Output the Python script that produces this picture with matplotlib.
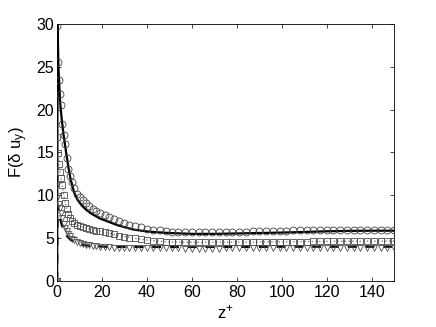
import matplotlib
matplotlib.use("Agg")
import matplotlib.pyplot as plt

plt.rcParams['font.family'] = ['Liberation Sans', 'DejaVu Sans']
plt.rcParams['mathtext.fontset'] = 'custom'
plt.rcParams['mathtext.rm'] = 'Liberation Sans'
plt.rcParams['mathtext.it'] = 'Liberation Sans'

# wall-normal positions of the sampled points
z = [0, 0.15, 0.5, 0.9, 1.3, 1.8, 2.3, 2.9, 3.5, 4.2, 5.0, 5.8, 6.7, 7.7, 8.8,
     10.0, 11.3, 12.7, 14.2, 15.8, 17.5, 19.3, 21.2, 23.2, 25.3, 27.5, 29.8,
     32.2, 34.7, 37.3, 40.0, 42.8, 45.7, 48.3,
     51, 54, 57, 60, 63, 66, 69, 72, 75, 78, 81, 84, 87, 90, 93, 96, 99, 102,
     105, 108, 111, 114, 117, 120, 123, 126, 129, 132, 135, 138, 141, 144, 147, 150]

circ = [0, 29.8, 25.6, 23.5, 21.8, 20.5, 18.3, 17.0, 16.0, 14.3, 13.1, 12.2, 11.5,
        10.8, 10.2, 9.8, 9.4, 9.05, 8.75, 8.45, 8.2, 7.95, 7.7, 7.45, 7.2, 6.98, 6.78,
        6.58, 6.4, 6.25, 6.1, 5.98, 5.9, 5.82,
        5.76, 5.72, 5.7, 5.68, 5.67, 5.67, 5.67, 5.68, 5.7, 5.72, 5.74, 5.76,
        5.78, 5.8, 5.82, 5.84, 5.86, 5.88, 5.9, 5.91, 5.92, 5.93, 5.94, 5.95,
        5.95, 5.96, 5.96, 5.96, 5.95, 5.95, 5.94, 5.94, 5.93, 5.93]

squ = [0, 16.8, 14.9, 13.6, 12.7, 12.0, 11.2, 10.0, 9.1, 8.4, 7.8, 7.35, 7.0,
       6.75, 6.55, 6.4, 6.28, 6.18, 6.08, 5.98, 5.88, 5.78, 5.66, 5.55, 5.43,
       5.3, 5.18, 5.07, 4.96, 4.86, 4.77, 4.69, 4.63, 4.58,
       4.55, 4.54, 4.53, 4.52, 4.52, 4.52, 4.52, 4.52, 4.53, 4.53, 4.54, 4.54,
       4.55, 4.55, 4.56, 4.57, 4.57, 4.58, 4.59, 4.6, 4.6, 4.61, 4.62, 4.62,
       4.63, 4.63, 4.64, 4.64, 4.65, 4.65, 4.65, 4.66, 4.66, 4.66]

tri = [0, 11.2, 9.9, 9.0, 8.5, 7.9, 7.3, 6.7, 6.2, 5.8, 5.45, 5.2, 4.95, 4.75,
       4.6, 4.45, 4.35, 4.25, 4.18, 4.1, 4.05, 4.0, 3.96, 3.93, 3.9, 3.88, 3.86,
       3.85, 3.84, 3.83, 3.82, 3.82, 3.81, 3.81,
       3.8, 3.8, 3.79, 3.79, 3.79, 3.79, 3.79, 3.79, 3.8, 3.8, 3.8, 3.8, 3.8,
       3.81, 3.81, 3.81, 3.81, 3.82, 3.82, 3.82, 3.82, 3.82, 3.83, 3.83, 3.83,
       3.83, 3.83, 3.83, 3.83, 3.84, 3.84, 3.84, 3.84, 3.84]

# model curves
z_solid = [0, 0.2, 0.6, 1.3, 2, 2.8, 4, 5, 6, 7.5, 9, 11, 13, 15, 19, 23, 27, 34,
           41, 50, 60, 70, 80, 90, 100, 110, 120, 130, 140, 150]
solid = [0, 29.8, 25, 21, 19, 17.2, 15, 13.3, 11.9, 10.4, 9.5, 8.8, 8.3, 7.9,
         7.3, 6.9, 6.5, 6.0, 5.75, 5.6, 5.5, 5.5, 5.55, 5.6, 5.65, 5.72, 5.8,
         5.85, 5.87, 5.87]

z_dot = [0, 0.2, 1, 2, 3, 4.5, 6, 8, 10, 14, 20, 27, 34, 40, 50, 60, 80, 100, 120, 150]
dot = [0, 16.5, 13.2, 11.6, 9.9, 8.1, 7.3, 6.7, 6.4, 6.1, 5.75, 5.35, 5.0, 4.77,
       4.55, 4.52, 4.53, 4.57, 4.62, 4.66]

z_dash = [0, 0.2, 1, 2, 3, 4.5, 6, 8, 10, 13, 17, 22, 30, 40, 60, 80, 100, 120, 150]
dash = [0, 8.8, 7.6, 6.6, 5.9, 5.2, 4.8, 4.5, 4.3, 4.15, 4.05, 4.0, 3.98, 3.97,
        3.97, 3.98, 4.0, 4.0, 4.0]

fig = plt.figure(figsize=(4.36, 3.27), dpi=100)
ax = fig.add_axes([0.131, 0.1407, 0.773, 0.786])

ax.plot(z_solid, solid, color='k', lw=1.6, zorder=2)
ax.plot(z_dot, dot, color='0.5', lw=1.0, ls=':', zorder=2)
ax.plot(z_dash, dash, color='k', lw=1.6, ls=(0, (4, 4)), zorder=2)

mk = dict(ls='none', mfc='none', mew=0.6, zorder=3)
ax.plot(z, circ, marker='o', ms=5, mec='0.25', **mk)
ax.plot(z, squ, marker='s', ms=4.3, mec='0.3', **mk)
ax.plot(z, tri, marker='v', ms=5, mec='0.3', **mk)

ax.set_xlim(0, 150)
ax.set_ylim(0, 30)
ax.set_xticks([0, 20, 40, 60, 80, 100, 120, 140])
ax.set_yticks([0, 5, 10, 15, 20, 25, 30])
ax.tick_params(direction='in', top=True, right=True, length=3, width=0.5,
               labelsize=11.5, pad=2)
ax.tick_params(axis='x', pad=3)
for s in ax.spines.values():
    s.set_linewidth(0.6)
ax.set_xlabel('z$^{+}$', fontsize=12, labelpad=2)
ax.set_ylabel('F(δ u$_{\\mathrm{y}}$)', fontsize=12, labelpad=5)

fig.savefig('out.png', dpi=100)
